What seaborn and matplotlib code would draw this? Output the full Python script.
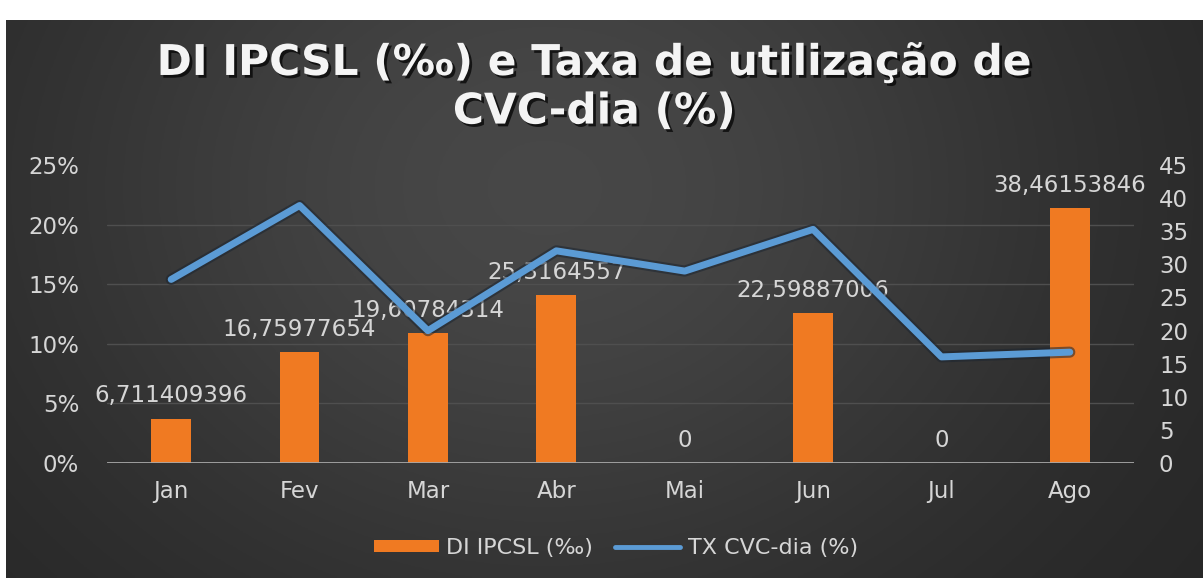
import numpy as np
import pandas as pd
import seaborn as sns
import matplotlib.pyplot as plt
import matplotlib.patheffects as pe
from matplotlib.patches import Patch
from matplotlib.lines import Line2D
from matplotlib.ticker import MultipleLocator, PercentFormatter

meses = ["Jan", "Fev", "Mar", "Abr", "Mai", "Jun", "Jul", "Ago"]
di_ipcsl = [6.711409396, 16.75977654, 19.60784314, 25.3164557, 0, 22.59887006, 0, 38.46153846]
tx_cvc = [15.4, 21.6, 11.1, 17.8, 16.1, 19.6, 8.9, 9.3]

titulo = "DI IPCSL (‰) e Taxa de utilização de\nCVC-dia (%)"
nome_barras = "DI IPCSL (‰)"
nome_linha = "TX CVC-dia (%)"

laranja = "#F07A22"
azul = "#5B9BD5"
cinza_txt = "#d6d6d6"

df = pd.DataFrame({"mes": meses, "di": di_ipcsl, "tx": tx_cvc})

sns.set_style("dark")
plt.rcParams["font.family"] = ["DejaVu Sans"]

fig = plt.figure(figsize=(12.03, 5.78), dpi=100, facecolor="white")

# fundo escuro com gradiente radial
bg = fig.add_axes([6 / 1203, 0, 1 - 6 / 1203, 558 / 578], zorder=-10)
gx, gy = np.meshgrid(np.linspace(0, 1, 400), np.linspace(0, 1, 200))
lum = 0.14 + 0.14 * np.exp(-((gx - 0.45) / 0.45) ** 2 - ((gy - 0.3) / 0.8) ** 2)
bg.imshow(np.dstack([lum, lum, lum]), aspect="auto", extent=(0, 1, 1, 0))
bg.set_axis_off()

ax = fig.add_axes([107 / 1203, 1 - 463 / 578, 1027 / 1203, 298 / 578])
ax.patch.set_visible(False)

sns.barplot(data=df, x="mes", y="di", ax=ax, color=laranja, saturation=1,
            width=0.31, linewidth=0)
rotulos = [f"{v:.10g}".replace(".", ",") for v in di_ipcsl]
ax.bar_label(ax.containers[0], labels=rotulos, padding=8, fontsize=16.5, color=cinza_txt)

ax2 = ax.twinx()
sns.lineplot(data=df, x="mes", y="tx", ax=ax2, color=azul, linewidth=5,
             path_effects=[pe.Stroke(linewidth=8, foreground="#1c2530", alpha=0.55), pe.Normal()])

ax.set_xlim(-0.5, 7.5)
ax.set_ylim(0, 45)
ax2.set_ylim(0, 25)
ax.yaxis.set_major_locator(MultipleLocator(5))
ax2.yaxis.set_major_locator(MultipleLocator(5))
ax2.yaxis.set_major_formatter(PercentFormatter(decimals=0))

ax.yaxis.tick_right()
ax2.yaxis.tick_left()
# linhas de grade seguem o eixo da esquerda (a cada 5%)
ax.set_yticks(np.linspace(0, 45, 6), minor=True)
ax.grid(axis="y", which="minor", color="#4f4f4f", linewidth=1)
ax.grid(axis="y", which="major", visible=False)
ax.grid(axis="x", visible=False)
ax.tick_params(axis="y", which="minor", length=0)
ax2.grid(False)
ax.axhline(0, color="#a8a8a8", linewidth=2, zorder=3)

for a in (ax, ax2):
    for s in a.spines.values():
        s.set_visible(False)
    a.set_xlabel("")
    a.set_ylabel("")
    a.tick_params(length=0, labelsize=16.5, colors=cinza_txt)
ax.tick_params(axis="y", pad=18)
ax2.tick_params(axis="y", pad=20)
ax.tick_params(axis="x", pad=12)

fig.text(0.494, 0.849, titulo, ha="center", va="center", fontsize=30.5, fontweight="bold",
         color="#f4f4f4", linespacing=1.2,
         path_effects=[pe.withSimplePatchShadow(offset=(2, -2), shadow_rgbFace="black", alpha=0.7)])

handles = [Patch(facecolor=laranja, edgecolor="none"), Line2D([], [], color=azul, linewidth=3.5)]
fig.legend(handles, [nome_barras, nome_linha], loc="center", bbox_to_anchor=(0.512, 0.052),
           ncol=2, frameon=False, fontsize=16, labelcolor=cinza_txt, handlelength=2.9,
           handleheight=0.5, columnspacing=1.0, handletextpad=0.35)

fig.savefig("out.png", dpi=100, facecolor="white")
